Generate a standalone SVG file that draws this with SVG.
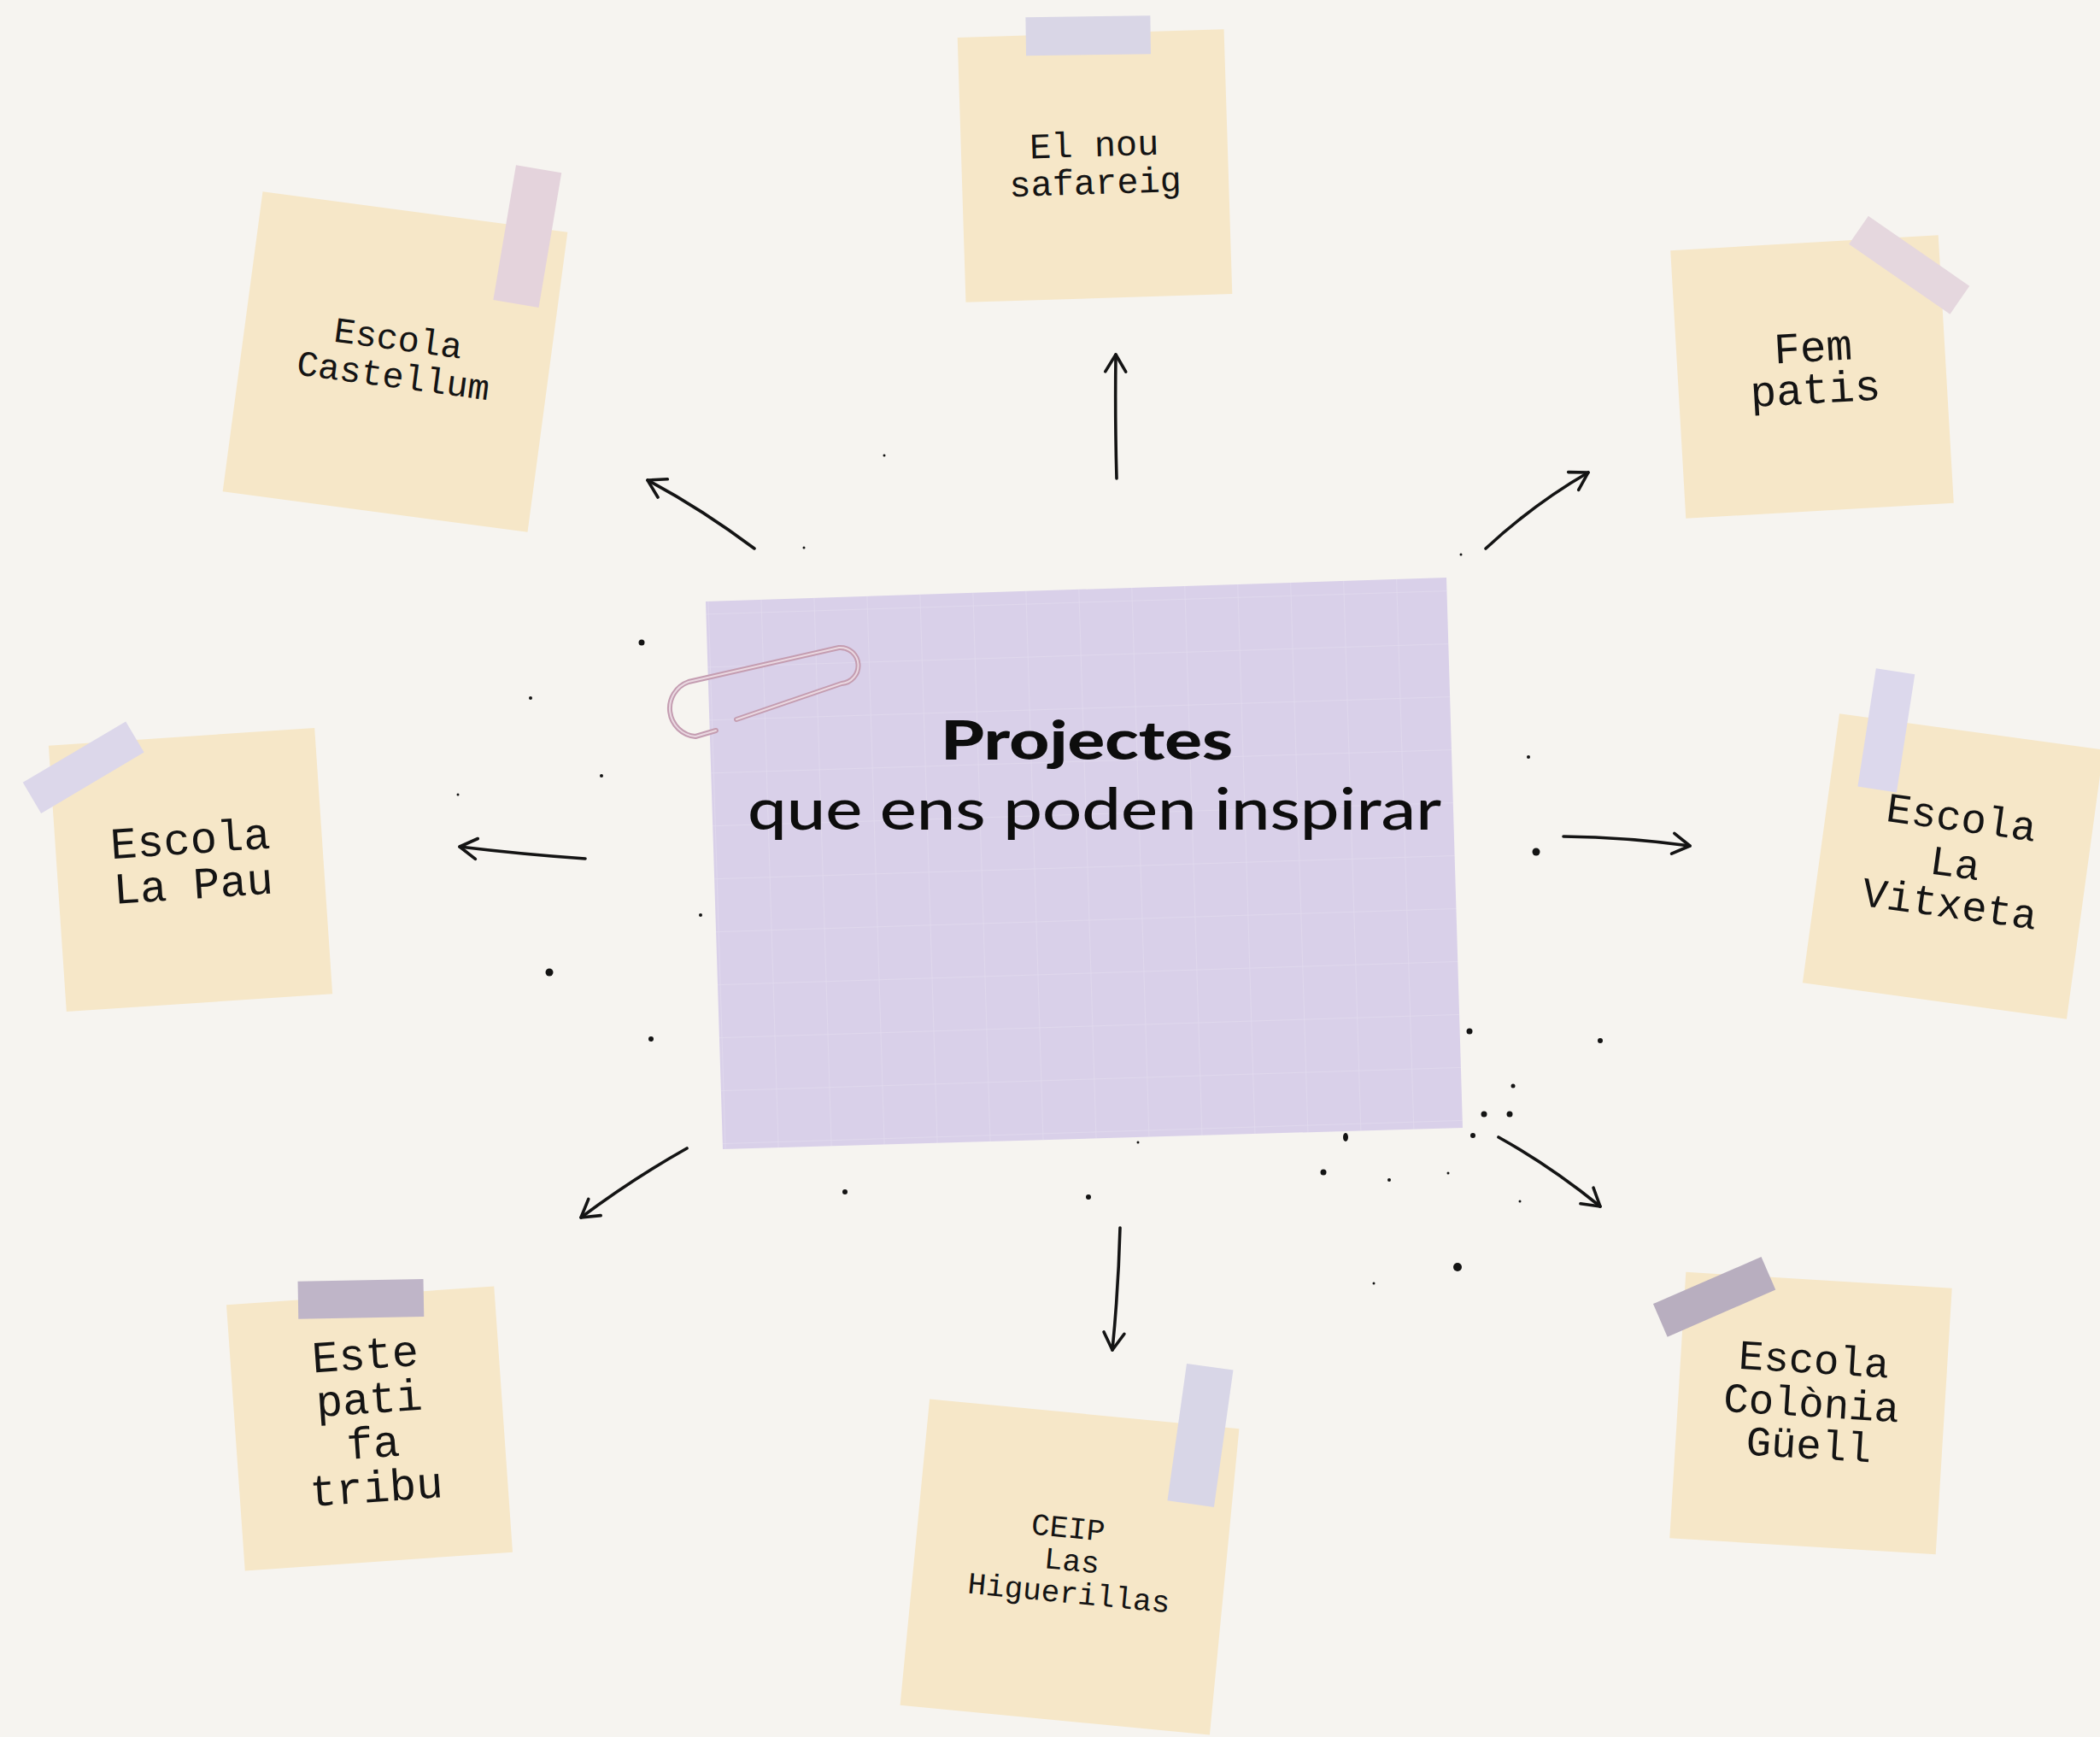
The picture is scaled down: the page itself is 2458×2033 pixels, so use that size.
<svg xmlns="http://www.w3.org/2000/svg" width="2458" height="2033" viewBox="0 0 2458 2033">
<defs>
<style>
.note{fill:#f6e7c8;}
.mono{font-family:'Liberation Mono',monospace;fill:#141414;text-anchor:middle;}
.conn{fill:none;stroke:#141414;stroke-width:3.6;stroke-linecap:round;marker-end:url(#ah);}
.dot{fill:#141414;}
</style>
<marker id="ah" markerUnits="userSpaceOnUse" markerWidth="40" markerHeight="40" viewBox="-30 -20 40 40" refX="0" refY="0" orient="auto">
<path d="M-20,-12 L0,0 L-20,12" fill="none" stroke="#141414" stroke-width="3.6" stroke-linecap="round" stroke-linejoin="round"/>
</marker>
<pattern id="grid" width="62" height="62" patternUnits="userSpaceOnUse" patternTransform="rotate(-1.8)">
<path d="M62,0 L0,0 L0,62" fill="none" stroke="#ffffff" stroke-opacity="0.22" stroke-width="1.5"/>
</pattern>
</defs>
<rect width="2458" height="2033" fill="#f6f4f0"/>

<g id="connectors">
<path class="conn" d="M1307,560 Q1305,490 1306,415"/>
<path class="conn" d="M883,642 Q820,595 758,562"/>
<path class="conn" d="M1739,642 Q1795,590 1859,553"/>
<path class="conn" d="M685,1005 Q612,1000 538,991"/>
<path class="conn" d="M1830,979 Q1905,980 1978,990"/>
<path class="conn" d="M804,1344 Q740,1380 680,1425"/>
<path class="conn" d="M1311,1437 Q1309,1510 1302,1580"/>
<path class="conn" d="M1754,1331 Q1815,1365 1873,1412"/>
</g>

<g id="ink-dots">
<circle class="dot" cx="751" cy="752" r="3.5"/>
<circle class="dot" cx="621" cy="817" r="2"/>
<circle class="dot" cx="704" cy="908" r="2"/>
<circle class="dot" cx="536" cy="930" r="1.5"/>
<circle class="dot" cx="820" cy="1071" r="2"/>
<circle class="dot" cx="643" cy="1138" r="4.5"/>
<circle class="dot" cx="762" cy="1216" r="3"/>
<circle class="dot" cx="1798" cy="997" r="4.5"/>
<circle class="dot" cx="1789" cy="886" r="2"/>
<circle class="dot" cx="1720" cy="1207" r="3.5"/>
<circle class="dot" cx="1873" cy="1218" r="3"/>
<circle class="dot" cx="1771" cy="1271" r="2.5"/>
<circle class="dot" cx="1767" cy="1304" r="3.5"/>
<circle class="dot" cx="1737" cy="1304" r="3.5"/>
<circle class="dot" cx="1724" cy="1329" r="3"/>
<ellipse class="dot" cx="1575" cy="1331" rx="3" ry="5"/>
<circle class="dot" cx="1549" cy="1372" r="3.5"/>
<circle class="dot" cx="1626" cy="1381" r="2"/>
<circle class="dot" cx="1695" cy="1373" r="1.5"/>
<circle class="dot" cx="1706" cy="1483" r="5"/>
<circle class="dot" cx="1608" cy="1502" r="1.5"/>
<circle class="dot" cx="1779" cy="1406" r="1.5"/>
<circle class="dot" cx="989" cy="1395" r="3"/>
<circle class="dot" cx="1274" cy="1401" r="3"/>
<circle class="dot" cx="1332" cy="1337" r="1.5"/>
<circle class="dot" cx="1035" cy="533" r="1.5"/>
<circle class="dot" cx="941" cy="641" r="1.5"/>
<circle class="dot" cx="1710" cy="649" r="1.5"/>
</g>

<g id="node-center">
<polygon points="826,704 1693,676 1712,1320 846,1345" fill="#d9d0e9"/>
<polygon points="826,704 1693,676 1712,1320 846,1345" fill="url(#grid)"/>
<path d="M862,842 L985,800 A21,21 0 0 0 982,758 L806,798 A33,33 0 0 0 814,862 L838,855" fill="none" stroke="#c49db1" stroke-width="6" stroke-linecap="round" stroke-linejoin="round"/>
<path d="M862,842 L985,800 A21,21 0 0 0 982,758 L806,798 A33,33 0 0 0 814,862 L838,855" fill="none" stroke="#ead8e1" stroke-width="2" stroke-linecap="round" stroke-linejoin="round"/>
<text x="1272" y="889" font-family="Lato, 'Noto Sans', sans-serif" font-weight="900" font-size="62" fill="#0d0d0d" text-anchor="middle" textLength="342" lengthAdjust="spacingAndGlyphs">Projectes</text>
<text x="1281" y="971" font-family="Lato, 'Noto Sans', sans-serif" font-weight="500" font-size="68" fill="#0d0d0d" text-anchor="middle" textLength="812" lengthAdjust="spacingAndGlyphs">que ens poden inspirar</text>
</g>

<g id="node-safareig" transform="translate(1281.5,194) rotate(-1.8)">
<rect class="note" x="-156" y="-155" width="312" height="310"/>
<rect x="-76" y="-175" width="146" height="45" fill="#d9d6e6" transform="rotate(1,-3,-153)"/>
<text class="mono" font-size="42" x="0" y="-11">El nou</text>
<text class="mono" font-size="42" x="0" y="33">safareig</text>
</g>

<g id="node-castellum" transform="translate(462.5,423.5) rotate(7.6)">
<rect class="note" x="-180" y="-177" width="360" height="354"/>
<rect x="107" y="-246" width="54" height="160" fill="#e4d3dc" transform="rotate(2,134,-166)"/>
<text class="mono" font-size="42" x="0" y="-14">Escola</text>
<text class="mono" font-size="42" x="0" y="30">Castellum</text>
</g>

<g id="node-fempatis" transform="translate(2121,441) rotate(-3.3)">
<rect class="note" x="-157" y="-157" width="314" height="314"/>
<rect x="49" y="-144" width="144" height="40" fill="#e5d7de" transform="rotate(38,121,-124)"/>
<text class="mono" font-size="51" x="3" y="-18">Fem</text>
<text class="mono" font-size="51" x="3" y="31">patis</text>
</g>

<g id="node-lapau" transform="translate(223,1018) rotate(-3.85)">
<rect class="note" x="-156" y="-156" width="312" height="312"/>
<rect x="-187" y="-149" width="140" height="42" fill="#dcd7ea" transform="rotate(-26.8,-117,-128)"/>
<text class="mono" font-size="52" x="2" y="-19">Escola</text>
<text class="mono" font-size="52" x="2" y="34">La Pau</text>
</g>

<g id="node-vitxeta" transform="translate(2286,1014) rotate(7.8)">
<rect class="note" x="-156" y="-159" width="312" height="318"/>
<rect x="-122" y="-217" width="46" height="140" fill="#dcd8ec" transform="rotate(1,-99,-147)"/>
<text class="mono" font-size="49" x="2" y="-42">Escola</text>
<text class="mono" font-size="49" x="2" y="12">La</text>
<text class="mono" font-size="49" x="2" y="60">Vitxeta</text>
</g>

<g id="node-tribu" transform="translate(432.5,1672) rotate(-4)">
<rect class="note" x="-157" y="-156" width="314" height="312"/>
<rect x="-73" y="-174" width="147" height="44" fill="#bfb5c8" transform="rotate(3,0,-152)"/>
<text class="mono" font-size="52" x="1" y="-70">Este</text>
<text class="mono" font-size="52" x="2" y="-18">pati</text>
<text class="mono" font-size="52" x="3" y="34">fa</text>
<text class="mono" font-size="52" x="3" y="86">tribu</text>
</g>

<g id="node-higuerillas" transform="translate(1252,1834) rotate(5.5)">
<rect class="note" x="-182" y="-180" width="364" height="360"/>
<rect x="110" y="-249" width="55" height="162" fill="#d8d6e7" transform="rotate(2.5,137,-168)"/>
<text class="mono" font-size="36" x="-6" y="-34">CEIP</text>
<text class="mono" font-size="36" x="2" y="4">Las</text>
<text class="mono" font-size="36" x="2" y="42">Higuerillas</text>
</g>

<g id="node-colonia" transform="translate(2119.5,1654) rotate(3.5)">
<rect class="note" x="-156" y="-156" width="312" height="312"/>
<rect x="-190" y="-150" width="138" height="42" fill="#b8aebf" transform="rotate(-27,-121,-129)"/>
<text class="mono" font-size="49" x="0" y="-47">Escola</text>
<text class="mono" font-size="49" x="0" y="4">Colònia</text>
<text class="mono" font-size="49" x="0" y="53">Güell</text>
</g>
</svg>
